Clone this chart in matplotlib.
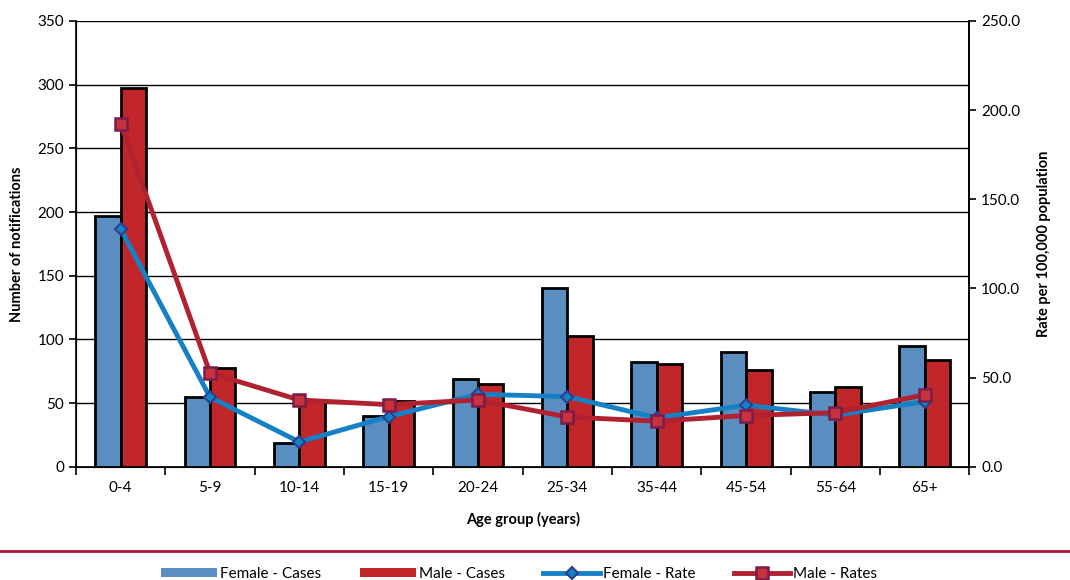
import matplotlib
matplotlib.use("Agg")
import matplotlib.pyplot as plt
import numpy as np
from matplotlib.lines import Line2D
from matplotlib.patches import Patch

plt.rcParams['font.family'] = ['Lato', 'DejaVu Sans']

age_groups = ["0-4", "5-9", "10-14", "15-19", "20-24", "25-34", "35-44", "45-54", "55-64", "65+"]
female_cases = [197, 55, 19, 40, 69, 140, 82, 90, 59, 95]
male_cases = [297, 78, 52, 52, 65, 103, 81, 76, 63, 84]
female_rate = [133.4, 39.1, 14.0, 28.2, 40.7, 39.4, 27.5, 34.6, 29.0, 36.6]
male_rate = [192.3, 52.7, 37.5, 34.9, 37.5, 28.0, 25.6, 28.8, 30.4, 40.4]

fem_bar = "#5B8EC0"
male_bar = "#C1272A"
fem_line = "#1580C4"
male_line = "#B2212F"

fig = plt.figure(figsize=(10.7, 5.8), dpi=100)
ax = fig.add_axes([0.071, 0.195, 0.835, 0.769])
x = np.arange(len(age_groups))
w = 0.285
ax.bar(x - w/2, female_cases, w, color=fem_bar, edgecolor="black", linewidth=2, zorder=3)
ax.bar(x + w/2, male_cases, w, color=male_bar, edgecolor="black", linewidth=2, zorder=3)
ax.set_ylim(0, 350)
ax.set_xlim(-0.5, len(age_groups) - 0.5)
ax.set_yticks(np.arange(0, 351, 50))
ax.yaxis.grid(True, color="black", linewidth=1.0, zorder=0)
ax.set_axisbelow(True)
ax.set_xticks(x)
ax.set_xticklabels(age_groups, fontsize=11)
ax.tick_params(axis='x', length=0, pad=10)
ax.set_xticks(np.arange(-0.5, len(age_groups)), minor=True)
ax.tick_params(axis='x', which='minor', length=6, width=1.2, direction='out')
ax.tick_params(axis='y', labelsize=11, length=5, width=1.2)
for s in ["top"]:
    ax.spines[s].set_visible(False)
for s in ["left", "bottom", "right"]:
    ax.spines[s].set_linewidth(1.2)
ax.set_ylabel("Number of notifications", fontsize=10.5, fontweight="bold", labelpad=10)
ax.set_xlabel("Age group (years)", fontsize=10.5, fontweight="bold", labelpad=12)

ax2 = ax.twinx()
ax2.plot(x, female_rate, color=fem_line, linewidth=3.5, marker="D", markersize=6,
         markerfacecolor=fem_line, markeredgecolor="#2B3F8C", markeredgewidth=1.5, zorder=5)
ax2.plot(x, male_rate, color=male_line, linewidth=3.5, marker="s", markersize=8,
         markerfacecolor="#C8323C", markeredgecolor="#7A1C4C", markeredgewidth=1.8, zorder=6)
ax2.set_ylim(0, 250)
ax2.set_yticks(np.arange(0, 251, 50))
ax2.set_yticklabels([f"{v:.1f}" for v in np.arange(0, 251, 50)], fontsize=11)
ax2.tick_params(axis='y', length=5, width=1.2)
ax2.spines["top"].set_visible(False)
ax2.spines["right"].set_linewidth(1.2)
ax2.set_ylabel("Rate per 100,000 population", fontsize=10.5, fontweight="bold", labelpad=12)

fig.add_artist(Line2D([0, 1], [1 - 551/580, 1 - 551/580], transform=fig.transFigure,
                      color="#B5123A", linewidth=2))

handles = [
    Patch(facecolor=fem_bar, edgecolor="none"),
    Patch(facecolor=male_bar, edgecolor="none"),
    Line2D([], [], color=fem_line, linewidth=3.5, marker="D", markersize=6,
           markerfacecolor=fem_line, markeredgecolor="#2B3F8C", markeredgewidth=1.5),
    Line2D([], [], color=male_line, linewidth=3.5, marker="s", markersize=8,
           markerfacecolor="#C8323C", markeredgecolor="#7A1C4C", markeredgewidth=1.8),
]
labels = ["Female - Cases", "Male - Cases", "Female - Rate", "Male - Rates"]
fig.legend(handles, labels, loc="center", bbox_to_anchor=(0.485, 1 - 574/580), ncol=4,
           frameon=False, fontsize=11, handlelength=3.7, handleheight=0.6,
           handletextpad=0.2, columnspacing=2.5)

fig.savefig("out.png", dpi=100)
